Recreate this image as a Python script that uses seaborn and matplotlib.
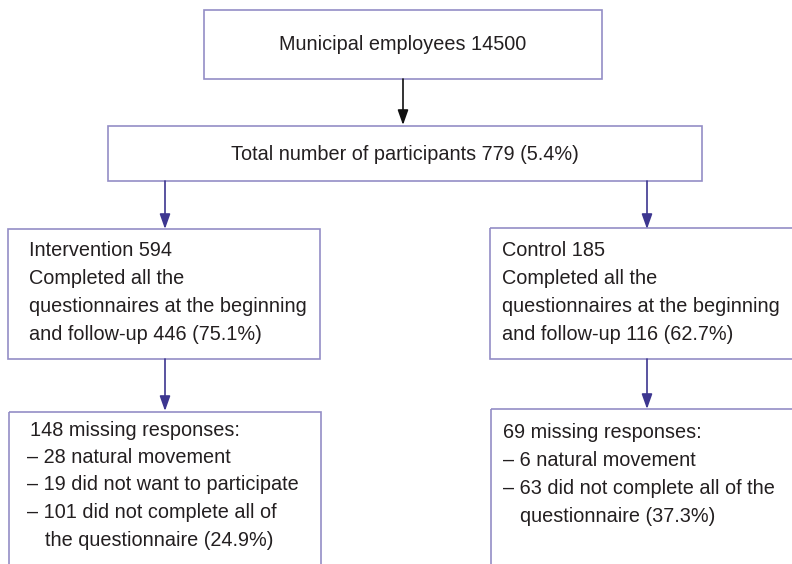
import matplotlib
matplotlib.use("Agg")
import matplotlib.pyplot as plt
import seaborn as sns
from matplotlib.patches import Rectangle

# flowchart content
top_text = "Municipal employees 14500"
total_text = "Total number of participants 779 (5.4%)"
intervention_lines = ["Intervention 594", "Completed all the",
                      "questionnaires at the beginning", "and follow-up 446 (75.1%)"]
control_lines = ["Control 185", "Completed all the",
                 "questionnaires at the beginning", "and follow-up 116 (62.7%)"]
# (text, indent kind)
missing_int = [("148 missing responses:", 0), ("\u2013 28 natural movement", -1),
               ("\u2013 19 did not want to participate", -1),
               ("\u2013 101 did not complete all of", -1),
               ("the questionnaire (24.9%)", 1)]
missing_ctl = [("69 missing responses:", 0), ("\u2013 6 natural movement", 0),
               ("\u2013 63 did not complete all of the", 0),
               ("questionnaire (37.3%)", 1)]

sns.set_style("white")
plt.rcParams['font.family'] = ['Liberation Sans', 'DejaVu Sans']

fig = plt.figure(figsize=(7.92, 5.64), dpi=100)
ax = fig.add_axes([0, 0, 1, 1])
ax.set_xlim(0, 792)
ax.set_ylim(564, 0)
ax.axis("off")

edge = "#938dc6"
arrow_c = "#3d3690"
txt_c = "#231f20"
fs = 14.3


def box(x0, y0, x1, y1):
    ax.add_patch(Rectangle((x0, y0), x1 - x0, y1 - y0, fill=False,
                           edgecolor=edge, linewidth=1.2, clip_on=False))


def arrow(x, y0, y1, color):
    ax.annotate("", xy=(x, y1), xytext=(x, y0),
                arrowprops=dict(arrowstyle="-|>,head_length=0.9,head_width=0.32",
                                color=color, lw=1.2, shrinkA=0, shrinkB=0))


box(204, 10, 602, 79)
ax.text(403, 44, top_text, ha="center", va="center", fontsize=fs, color=txt_c)
arrow(403, 79, 125, "#111111")

box(108, 126, 702, 181)
ax.text(405, 154, total_text, ha="center", va="center", fontsize=fs, color=txt_c)

arrow(165, 181, 229, arrow_c)
arrow(647, 181, 229, arrow_c)

box(8, 229, 320, 359)
for i, line in enumerate(intervention_lines):
    ax.text(29, 250 + i * 28.3, line, ha="left", va="center", fontsize=fs, color=txt_c)

box(490, 228, 800, 359)
for i, line in enumerate(control_lines):
    ax.text(502, 250 + i * 28.3, line, ha="left", va="center", fontsize=fs, color=txt_c)

arrow(165, 359, 411, arrow_c)
arrow(647, 359, 409, arrow_c)

box(9, 412, 321, 600)
xs = {0: 30, -1: 27, 1: 45}
for i, (line, ind) in enumerate(missing_int):
    ax.text(xs[ind], 430 + i * 27.5, line, ha="left", va="center", fontsize=fs, color=txt_c)

box(491, 409, 800, 600)
xs = {0: 503, 1: 520}
for i, (line, ind) in enumerate(missing_ctl):
    ax.text(xs[ind], 433 + i * 27.7, line, ha="left", va="center", fontsize=fs, color=txt_c)

fig.savefig("out.png", dpi=100)
